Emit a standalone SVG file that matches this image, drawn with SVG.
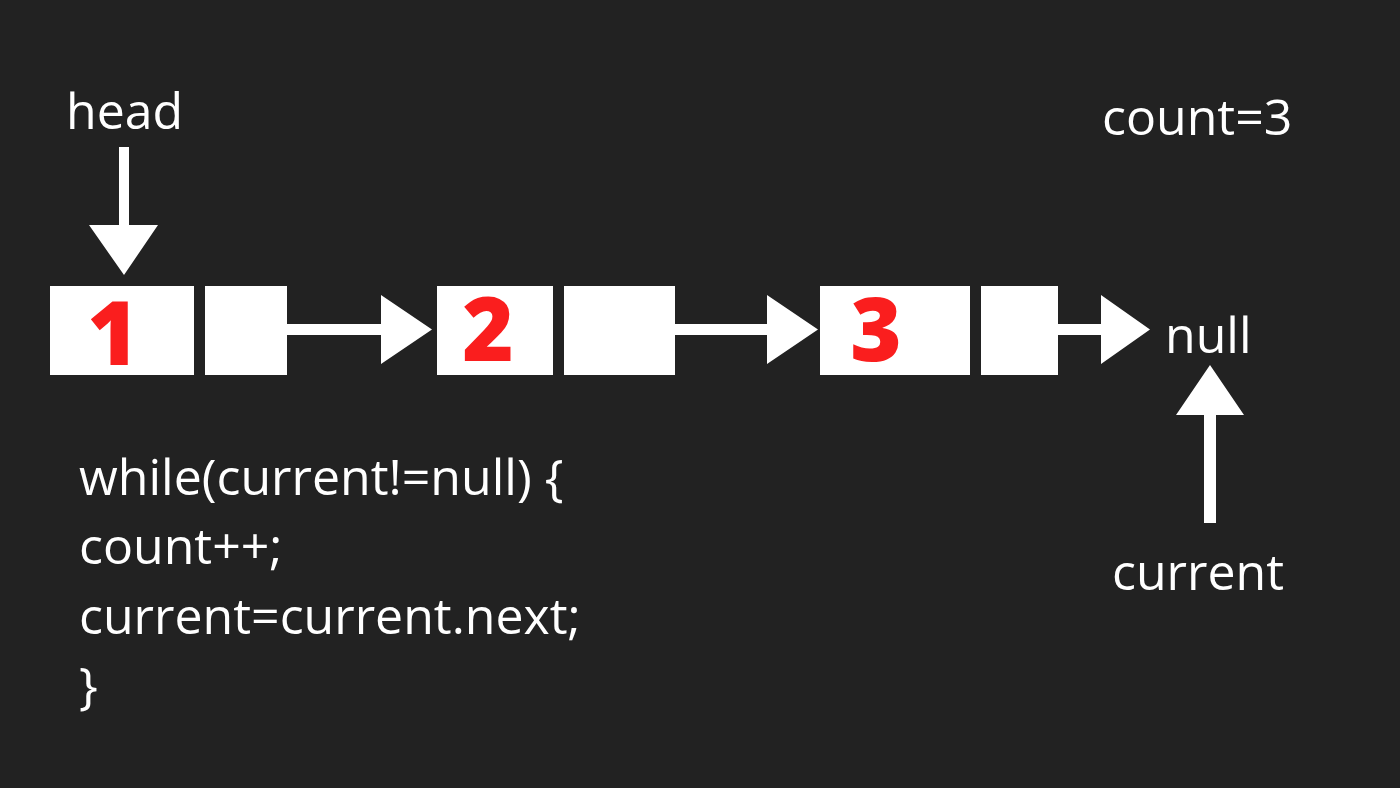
<svg xmlns="http://www.w3.org/2000/svg" width="1400" height="788" viewBox="0 0 1400 788">
  <style>
    .lbl { font-family: "Open Sans", "Liberation Sans", sans-serif; font-size: 50px; fill: #ffffff; }
    .code { font-family: "Open Sans", "Liberation Sans", sans-serif; font-size: 50px; fill: #ffffff; }
    .box { fill: #ffffff; }
    .num { font-family: "Open Sans", "Liberation Sans", sans-serif; font-weight: 800; font-size: 88px; fill: #fa1e1e; text-anchor: middle; }
    .arrow { fill: #ffffff; }
  </style>
  <rect width="1400" height="788" fill="#222222"/>

  <g id="node1">
    <rect class="box" x="50" y="286" width="144" height="89"/>
    <text class="num" x="113" y="365">1</text>
  </g>
  <g id="node1-next">
    <rect class="box" x="205" y="286" width="82" height="89"/>
  </g>
  <g id="node2">
    <rect class="box" x="437" y="286" width="116" height="89"/>
    <text class="num" x="488" y="361">2</text>
  </g>
  <g id="node2-next">
    <rect class="box" x="564" y="286" width="111" height="89"/>
  </g>
  <g id="node3">
    <rect class="box" x="820" y="286" width="150" height="89"/>
    <text class="num" x="876" y="361">3</text>
  </g>
  <g id="node3-next">
    <rect class="box" x="981" y="286" width="77" height="89"/>
  </g>
  <g id="null-node">
    <text class="lbl" x="1165" y="353">null</text>
  </g>
  <g id="head-label">
    <text class="lbl" x="66" y="129">head</text>
  </g>
  <g id="current-label">
    <text class="lbl" x="1112" y="590">current</text>
  </g>
  <g id="count-label">
    <text class="lbl" x="1102" y="135">count=3</text>
  </g>
  <g id="code">
    <text class="code" x="79" y="495">while(current!=null) {</text>
    <text class="code" x="79" y="564">count++;</text>
    <text class="code" x="79" y="634">current=current.next;</text>
    <text class="code" x="79" y="703">}</text>
  </g>

  <g id="connectors">
    <path class="arrow" d="M287 324 H381 V295 L432 329.5 L381 364 V335 H287 Z"/>
    <path class="arrow" d="M675 324 H767 V295 L818 329.5 L767 364 V335 H675 Z"/>
    <path class="arrow" d="M1058 324 H1101 V295 L1150 329.5 L1101 364 V335 H1058 Z"/>
    <path class="arrow" d="M119 147 H129 V225 H158 L124 275 L89 225 H119 Z"/>
    <path class="arrow" d="M1204 523 V415 H1176 L1210 365 L1244 415 H1216 V523 Z"/>
  </g>
</svg>
